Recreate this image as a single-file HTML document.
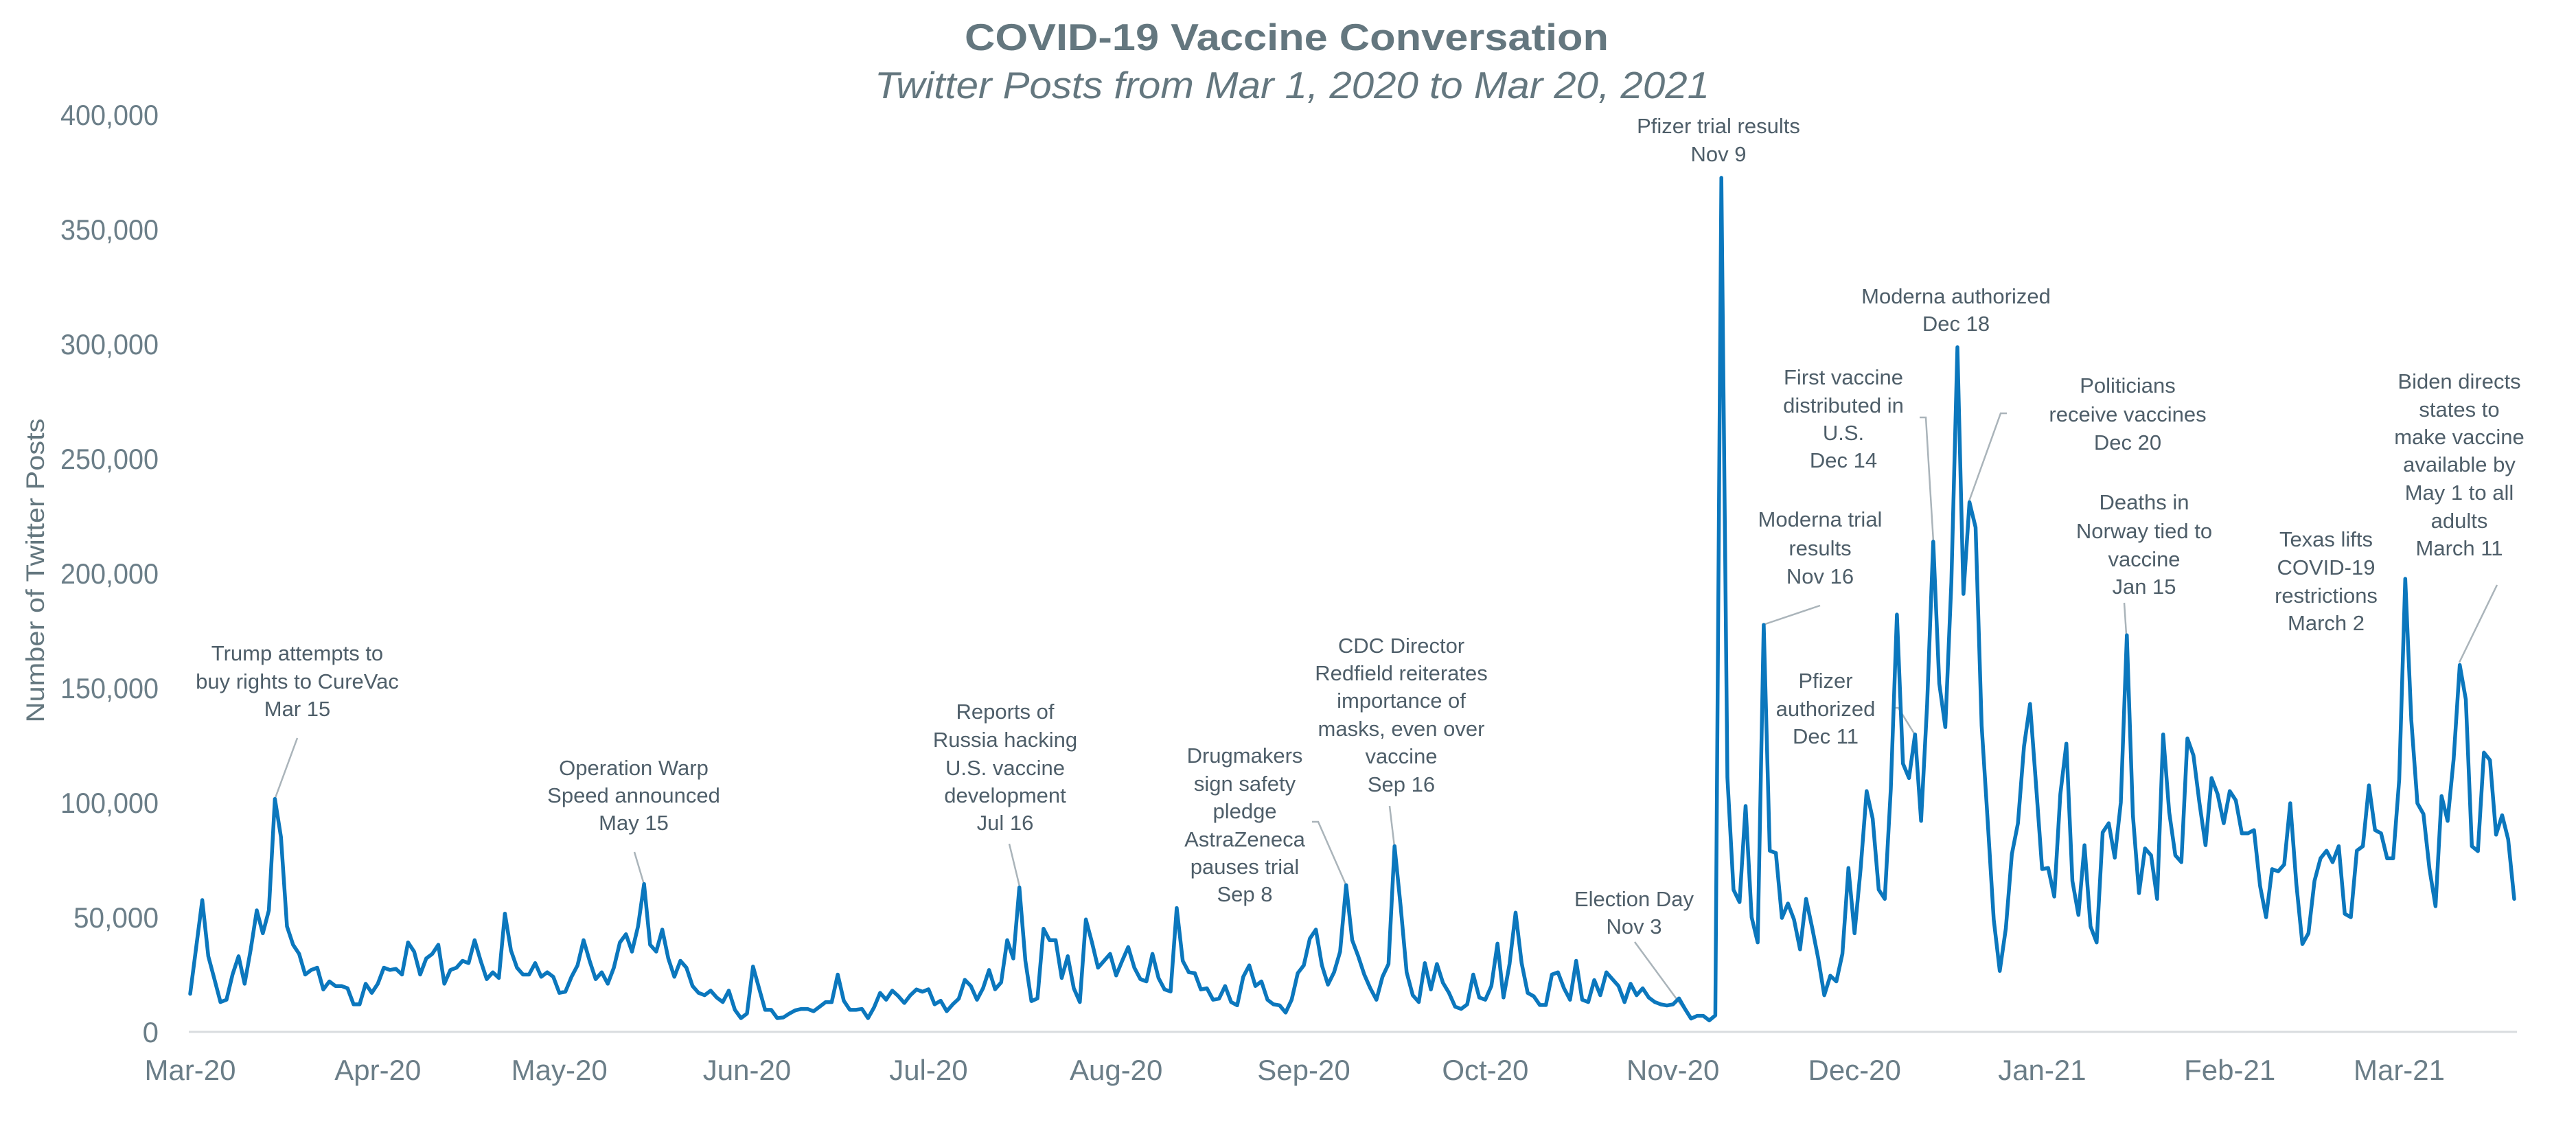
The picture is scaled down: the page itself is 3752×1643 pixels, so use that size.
<!DOCTYPE html>
<html><head><meta charset="utf-8"><style>
html,body{margin:0;padding:0;background:#fff;}
svg{display:block;}
text{font-family:"Liberation Sans",Arial,sans-serif;}
.t{fill:#64777f;}
.ax{fill:#6b7e88;font-size:42px;}
.an{fill:#4e5e69;font-size:31px;text-anchor:middle;}
.ld{stroke:#aab4ba;stroke-width:2.5;fill:none;}
</style></head><body>
<svg id="s" width="3752" height="1643" viewBox="0 0 3752 1643" xmlns="http://www.w3.org/2000/svg">
<rect width="3752" height="1643" fill="#fff"/>
<text class="t" x="1874" y="73" font-size="55" font-weight="bold" text-anchor="middle" textLength="938" lengthAdjust="spacingAndGlyphs">COVID-19 Vaccine Conversation</text>
<text class="t" x="1882" y="143" font-size="55" font-style="italic" text-anchor="middle" textLength="1216" lengthAdjust="spacingAndGlyphs">Twitter Posts from Mar 1, 2020 to Mar 20, 2021</text>
<g class="ax" text-anchor="end">
<text x="231" y="182" textLength="143" lengthAdjust="spacingAndGlyphs">400,000</text>
<text x="231" y="349" textLength="143" lengthAdjust="spacingAndGlyphs">350,000</text>
<text x="231" y="516" textLength="143" lengthAdjust="spacingAndGlyphs">300,000</text>
<text x="231" y="683" textLength="143" lengthAdjust="spacingAndGlyphs">250,000</text>
<text x="231" y="850" textLength="143" lengthAdjust="spacingAndGlyphs">200,000</text>
<text x="231" y="1017" textLength="143" lengthAdjust="spacingAndGlyphs">150,000</text>
<text x="231" y="1184" textLength="143" lengthAdjust="spacingAndGlyphs">100,000</text>
<text x="231" y="1351" textLength="124" lengthAdjust="spacingAndGlyphs">50,000</text>
<text x="231" y="1518">0</text>
</g>
<text class="t" font-size="37" text-anchor="middle" transform="translate(64,831) rotate(-90)" textLength="443" lengthAdjust="spacingAndGlyphs">Number of Twitter Posts</text>
<g class="ax" text-anchor="middle" id="xl"></g>
<line x1="275" y1="1503" x2="3666" y2="1503" stroke="#d9dcdf" stroke-width="3"/>
<g id="ann">
<line class="ld" x1="433" y1="1075" x2="401" y2="1162"/>
<line class="ld" x1="924" y1="1241" x2="938" y2="1288"/>
<line class="ld" x1="1470" y1="1229" x2="1485" y2="1291"/>
<polyline class="ld" points="1911,1197 1920,1197 1960,1288"/>
<line class="ld" x1="2024" y1="1174" x2="2031" y2="1233"/>
<line class="ld" x1="2381" y1="1372" x2="2453" y2="1470"/>
<line class="ld" x1="2651" y1="882" x2="2568" y2="910"/>
<polyline class="ld" points="2756,1031 2765,1031 2789,1070"/>
<polyline class="ld" points="2796,608 2805,608 2816,789"/>
<polyline class="ld" points="2923,602 2914,602 2868,730"/>
<line class="ld" x1="3094" y1="878" x2="3097" y2="924"/>
<line class="ld" x1="3637" y1="852" x2="3582" y2="965"/>
</g>
<g class="an">
<text x="433" y="962">Trump attempts to</text><text x="433" y="1003">buy rights to CureVac</text><text x="433" y="1043">Mar 15</text>
<text x="923" y="1129">Operation Warp</text><text x="923" y="1169">Speed announced</text><text x="923" y="1209">May 15</text>
<text x="1464" y="1047">Reports of</text><text x="1464" y="1088">Russia hacking</text><text x="1464" y="1129">U.S. vaccine</text><text x="1464" y="1169">development</text><text x="1464" y="1209">Jul 16</text>
<text x="1813" y="1111">Drugmakers</text><text x="1813" y="1152">sign safety</text><text x="1813" y="1192">pledge</text><text x="1813" y="1233">AstraZeneca</text><text x="1813" y="1273">pauses trial</text><text x="1813" y="1313">Sep 8</text>
<text x="2041" y="951">CDC Director</text><text x="2041" y="991">Redfield reiterates</text><text x="2041" y="1031">importance of</text><text x="2041" y="1072">masks, even over</text><text x="2041" y="1112">vaccine</text><text x="2041" y="1153">Sep 16</text>
<text x="2380" y="1320">Election Day</text><text x="2380" y="1360">Nov 3</text>
<text x="2503" y="194">Pfizer trial results</text><text x="2503" y="235">Nov 9</text>
<text x="2651" y="767">Moderna trial</text><text x="2651" y="809">results</text><text x="2651" y="850">Nov 16</text>
<text x="2659" y="1002">Pfizer</text><text x="2659" y="1043">authorized</text><text x="2659" y="1083">Dec 11</text>
<text x="2685" y="560">First vaccine</text><text x="2685" y="601">distributed in</text><text x="2685" y="641">U.S.</text><text x="2685" y="681">Dec 14</text>
<text x="2849" y="442">Moderna authorized</text><text x="2849" y="482">Dec 18</text>
<text x="3099" y="572">Politicians</text><text x="3099" y="614">receive vaccines</text><text x="3099" y="655">Dec 20</text>
<text x="3123" y="742">Deaths in</text><text x="3123" y="784">Norway tied to</text><text x="3123" y="825">vaccine</text><text x="3123" y="865">Jan 15</text>
<text x="3388" y="796">Texas lifts</text><text x="3388" y="837">COVID-19</text><text x="3388" y="878">restrictions</text><text x="3388" y="918">March 2</text>
<text x="3582" y="566">Biden directs</text><text x="3582" y="607">states to</text><text x="3582" y="647">make vaccine</text><text x="3582" y="687">available by</text><text x="3582" y="728">May 1 to all</text><text x="3582" y="769">adults</text><text x="3582" y="809">March 11</text>
</g>
<polyline id="ln" fill="none" stroke="#0b77bd" stroke-width="5.5" stroke-linejoin="round" stroke-linecap="round" points=""/>
</svg>
<script>
var v=[16.6,37,57.5,33,23,13,14,25,33,21,36,53,43,53,101.6,85,46,38,34,25,27,28,18.5,22,20,20,19,12,12,21,17,21,28,27,27.5,25,39,35,25,32,34,38,21,27,28,31,30,40,31,23,26,23.5,51.6,35.5,28,25,25,30,24,26,24,17,17.5,24,29,40,31,23,26,21,28,39,42.6,35,46,64.5,38,35,44.6,32,24,31,28,20,17,16,18,15,13,18,9.6,6,8,28.5,19,9.6,9.6,6,6.3,8,9.4,10,10,9,11,13,13,25,13.6,9.6,9.6,10,6,10.7,17,14,18,15.6,12.6,16,18.5,17.5,18.6,12,13.6,9,12,14.5,22.7,20,14,19,27,18.6,21.6,40,32,63,31,13.4,14.6,45,40,40,23.5,33,19,13,49,39,28,31,34,24.6,31,37,28,23,22,34,23.5,18.5,17.6,54,31,26,25.6,18.5,19,14,14.5,20,13,11.6,24,29,20,22,14,12,11.6,8.4,14,25.6,29,40.7,44.6,29,20.6,26,35,64,40,33,25,19,14,24,29.6,81,55,26,16,13,30,18.5,29.6,21.4,17,11,10,12,25,15,14,20,38.5,15,29.6,52,30,17,15.5,11.7,11.7,25,26,19,14,31,14,13,22.6,16,26,23,20,13,21,16,19,15,13,12,11.5,12,14.6,10,5.8,7,7,5,7.2,372.5,111,62,56.6,98.5,50,39,177.5,79,78,49.7,56,49,36,58,45.5,32,16,24.5,22,34,71.5,43,71,105,93,62,58,106,182,117,110.7,129.7,92,142.8,213.8,151.9,132.9,196,298.6,191,231,220,133.6,92,49,26.6,45,77.5,91,124.5,143,107.5,71,71.5,59,103.6,125.7,65.8,51,81.4,46,39,87,91,76,100,173,94.5,60.5,80,77,58,129.7,95.8,77,74,128,120.6,99.7,81.4,110.7,103.6,91,105,101,86.6,86.6,88,63.7,50,71,70,73,99.7,64.4,38.3,43,65.8,75.7,79,74,81,51.5,50,79,81,107.5,88,86.6,75.7,75.7,110,197.6,136,99.7,95,71,54.8,102.8,92,119,160,145,81,78.8,121.8,118.5,86,94.5,84,58];
var x0=277,dx=(3662-277)/384,p=[];
for(var i=0;i<v.length;i++){p.push((x0+i*dx).toFixed(1)+','+(1503-v[i]*3.34).toFixed(1));}
document.getElementById('ln').setAttribute('points',p.join(' '));
var m=[['Mar-20',0],['Apr-20',31],['May-20',61],['Jun-20',92],['Jul-20',122],['Aug-20',153],['Sep-20',184],['Oct-20',214],['Nov-20',245],['Dec-20',275],['Jan-21',306],['Feb-21',337],['Mar-21',365]];
var g=document.getElementById('xl'),ns='http://www.w3.org/2000/svg';
m.forEach(function(a){var t=document.createElementNS(ns,'text');t.setAttribute('x',(x0+a[1]*dx).toFixed(1));t.setAttribute('y','1573');t.textContent=a[0];g.appendChild(t);});
</script>
</body></html>
